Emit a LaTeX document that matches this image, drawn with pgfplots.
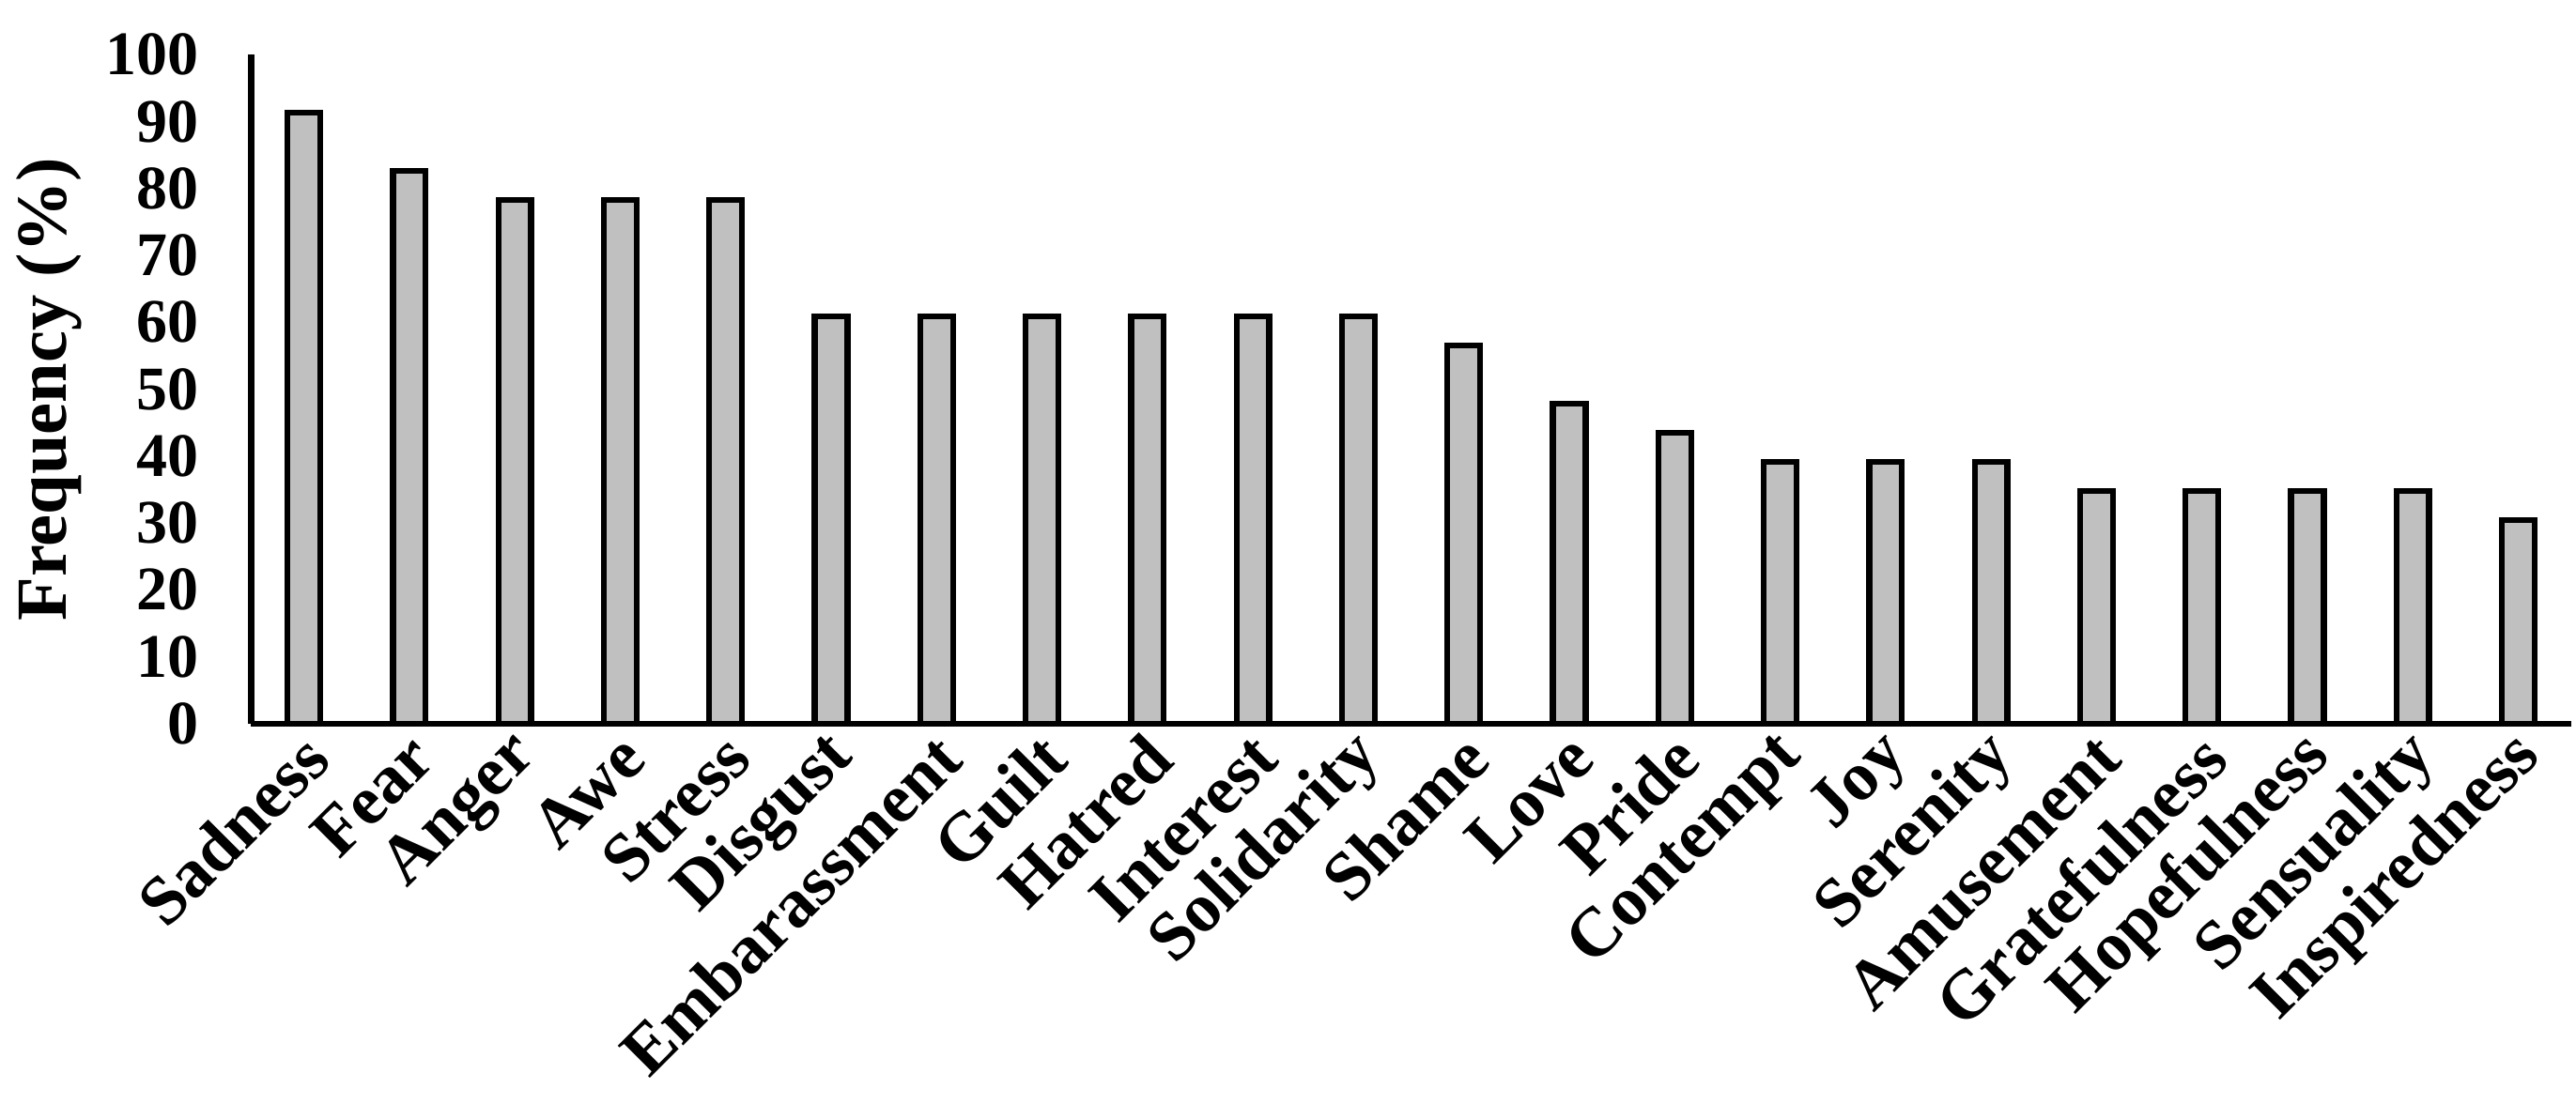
\documentclass[border={0pt 0pt 0pt 3.5pt}]{standalone}
\usepackage{fontspec}
\setmainfont{Liberation Serif}
\usepackage{pgfplots}
\usepackage{pgfplotstable}
\pgfplotsset{compat=1.18}
\definecolor{barfill}{RGB}{192,192,192}

% frequency of each emotion (%), n = 23
\pgfplotstableread{
idx val
0  91.3
1  82.6
2  78.3
3  78.3
4  78.3
5  60.9
6  60.9
7  60.9
8  60.9
9  60.9
10 60.9
11 56.5
12 47.8
13 43.5
14 39.1
15 39.1
16 39.1
17 34.8
18 34.8
19 34.8
20 34.8
21 30.4
}\emotions

\begin{document}
\begin{tikzpicture}
\begin{axis}[
    scale only axis,
    width=468pt, height=135pt,
    xmin=-0.5, xmax=21.5,
    ymin=0, ymax=100,
    axis lines*=left,
    axis line style={line width=1.2pt},
    major tick length=0,
    ytick={0,10,...,100},
    xtick={0,...,21},
    xticklabels={Sadness,Fear,Anger,Awe,Stress,Disgust,Embarassment,Guilt,Hatred,Interest,Solidarity,Shame,Love,Pride,Contempt,Joy,Serenity,Amusement,Gratefulness,Hopefulness,Sensuality,Inspiredness},
    /pgf/number format/assume math mode=true,
    yticklabel style={font=\fontsize{12.5}{14}\selectfont\bfseries, xshift=-7pt},
    xticklabel style={font=\fontsize{14}{16}\selectfont\bfseries,
        rotate=45, anchor=east, xshift=2pt, yshift=-5pt},
    ylabel={Frequency (\%)},
    ylabel style={font=\fontsize{14.5}{16}\selectfont\bfseries, yshift=-2pt},
    clip=false,
]
\addplot[ybar, bar width=0.31, fill=barfill, draw=black, line width=1.2pt]
    table[x=idx, y=val] {\emotions};
\end{axis}
\end{tikzpicture}
\end{document}
